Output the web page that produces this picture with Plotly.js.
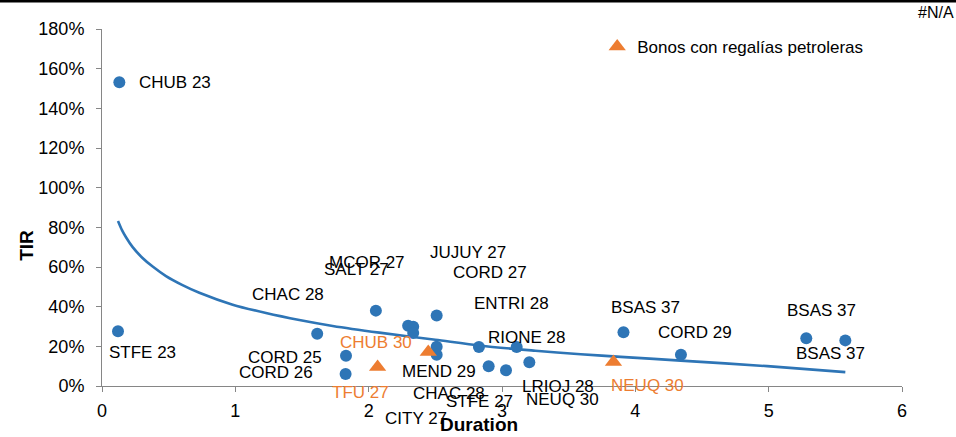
<!DOCTYPE html>
<html>
<head>
<meta charset="utf-8">
<script src="https://cdn.plot.ly/plotly-3.0.1.min.js"></script>
<style>
  html, body { margin: 0; padding: 0; background: #fff; }
  #chart { width: 956px; height: 437px; }
</style>
</head>
<body>
<div id="chart"></div>
<script>
// ---- Data ----
const blueNames = ["CHUB 23", "STFE 23", "CHAC 28", "CORD 25", "CORD 26", "MCOR 27", "SALT 27",
  "JUJUY 27", "CITY 27", "CORD 27", "CHAC 28", "MEND 29", "ENTRI 28", "STFE 27", "NEUQ 30",
  "RIONE 28", "LRIOJ 28", "BSAS 37", "CORD 29", "BSAS 37", "BSAS 37"];
const blueDuration = [0.13, 0.12, 1.614, 1.83, 1.827, 2.054, 2.296,
  2.334, 2.334, 2.51, 2.51, 2.51, 2.827, 2.9, 3.03,
  3.11, 3.205, 3.911, 4.342, 5.282, 5.575];
const blueTIR = [1.532, 0.276, 0.264, 0.153, 0.06, 0.38, 0.304,
  0.299, 0.267, 0.355, 0.198, 0.158, 0.197, 0.0996, 0.0795,
  0.197, 0.12, 0.271, 0.157, 0.2405, 0.23];

const orangeNames = ["CHUB 30", "TFU 27", "NEUQ 30"];
const orangeDuration = [2.447, 2.067, 3.836];
const orangeTIR = [0.171, 0.0956, 0.121];

// trend line (logarithmic trend as drawn in the picture), read at several durations
const trendDuration = [0.12, 0.15, 0.18, 0.23, 0.3, 0.38, 0.48, 0.6, 0.73, 0.98, 1.23, 1.48, 1.73, 2.08, 2.5, 2.84, 3.25, 3.59, 3.89, 4.34, 4.99, 5.575];
const trendTIR = [0.832, 0.786, 0.75, 0.70, 0.648, 0.602, 0.554, 0.51, 0.47, 0.41, 0.368, 0.333, 0.303, 0.269, 0.233, 0.203, 0.178, 0.16, 0.147, 0.128, 0.1, 0.07];

const legendName = "Bonos con regalías petroleras";
const xTitle = "Duration";
const yTitle = "TIR";

// ---- Label placement (pixel offsets from each point) ----
const blueLabelDX = [55.5, 24.7, -29, -61.5, -70, -8.5, -52, 54.7, 3, 53, 12.3, 2, 32.3, -9, 56, 10.3, 29, 21.7, 13.8, 15, -15];
const blueLabelDY = [0, -21.3, 39, -1.5, 2, 48.5, 56.5, 74.5, -85.5, 43.5, -46.7, -17, 43, -35, -29.3, 9.3, -24.3, 24.4, 22, 28, -13.3];
const orangeLabelDX = [-52.3, -17.2, 33.7];
const orangeLabelDY = [10, -25, -23.5];

const BLUE = "#2E75B6";
const ORANGE = "#ED7D31";
const FONT = "Liberation Sans, Arial, sans-serif";
const FS = 17;
const TFS = 18;

const traces = [
  {
    x: trendDuration, y: trendTIR, type: "scatter", mode: "lines",
    line: { color: BLUE, width: 2.6, shape: "spline", smoothing: 0.8 },
    showlegend: false, hoverinfo: "skip"
  },
  {
    x: blueDuration, y: blueTIR, type: "scatter", mode: "markers",
    marker: { color: BLUE, size: 12, symbol: "circle" },
    showlegend: false, cliponaxis: false
  },
  {
    x: orangeDuration, y: orangeTIR, type: "scatter", mode: "markers",
    name: legendName,
    marker: { color: ORANGE, size: 15, symbol: "triangle-up" },
    showlegend: true, cliponaxis: false
  }
];

const annotations = [];
blueNames.forEach((n, i) => {
  annotations.push({
    x: blueDuration[i], y: blueTIR[i], xref: "x", yref: "y", text: n, showarrow: false,
    xshift: blueLabelDX[i], yshift: blueLabelDY[i], xanchor: "center", yanchor: "middle",
    font: { family: FONT, size: FS, color: "#000" }
  });
});
orangeNames.forEach((n, i) => {
  annotations.push({
    x: orangeDuration[i], y: orangeTIR[i], xref: "x", yref: "y", text: n, showarrow: false,
    xshift: orangeLabelDX[i], yshift: orangeLabelDY[i], xanchor: "center", yanchor: "middle",
    font: { family: FONT, size: FS, color: ORANGE }
  });
});
// axis titles
annotations.push({
  x: 0.4715, y: -0.109, xref: "paper", yref: "paper", text: "<b>" + xTitle + "</b>", showarrow: false,
  xanchor: "center", yanchor: "middle", font: { family: FONT, size: 19, color: "#000" }
});
annotations.push({
  x: -0.094, y: 0.395, xref: "paper", yref: "paper", text: "<b>" + yTitle + "</b>", showarrow: false,
  textangle: -90, xanchor: "center", yanchor: "middle", font: { family: FONT, size: 19, color: "#000" }
});
// #N/A
annotations.push({
  x: 1.0675, y: 1.045, xref: "paper", yref: "paper", text: "#N/A", showarrow: false,
  xanchor: "right", yanchor: "middle", font: { family: FONT, size: 16, color: "#000" }
});

const layout = {
  width: 956, height: 437,
  margin: { l: 102, r: 54, t: 29, b: 51, pad: 0 },
  paper_bgcolor: "#fff", plot_bgcolor: "#fff",
  font: { family: FONT, size: FS, color: "#000" },
  xaxis: {
    range: [0, 6], dtick: 1, tick0: 0, showgrid: false, zeroline: false,
    showline: true, linecolor: "#868686", linewidth: 1,
    ticks: "outside", ticklen: 5, tickcolor: "#868686", ticklabelstandoff: 3,
    tickfont: { family: FONT, size: TFS, color: "#000" }
  },
  yaxis: {
    range: [0, 1.8], dtick: 0.2, tick0: 0, tickformat: ".0%", showgrid: false, zeroline: false,
    showline: true, linecolor: "#868686", linewidth: 1,
    ticks: "outside", ticklen: 5, tickcolor: "#868686", ticklabelstandoff: 8,
    tickfont: { family: FONT, size: TFS, color: "#000" }
  },
  showlegend: true,
  legend: {
    x: 0.619, y: 0.95, xanchor: "left", yanchor: "middle", xref: "paper", yref: "paper",
    bgcolor: "rgba(0,0,0,0)", borderwidth: 0,
    font: { family: FONT, size: FS, color: "#000" }
  },
  annotations: annotations,
  shapes: [
    { type: "rect", xref: "paper", yref: "paper", x0: -0.13, x1: 1.07, y0: 1.074, y1: 1.09,
      fillcolor: "#000", line: { width: 0 } }
  ],
  hovermode: false
};

Plotly.newPlot("chart", traces, layout, { displayModeBar: false, staticPlot: true });
</script>
</body>
</html>
